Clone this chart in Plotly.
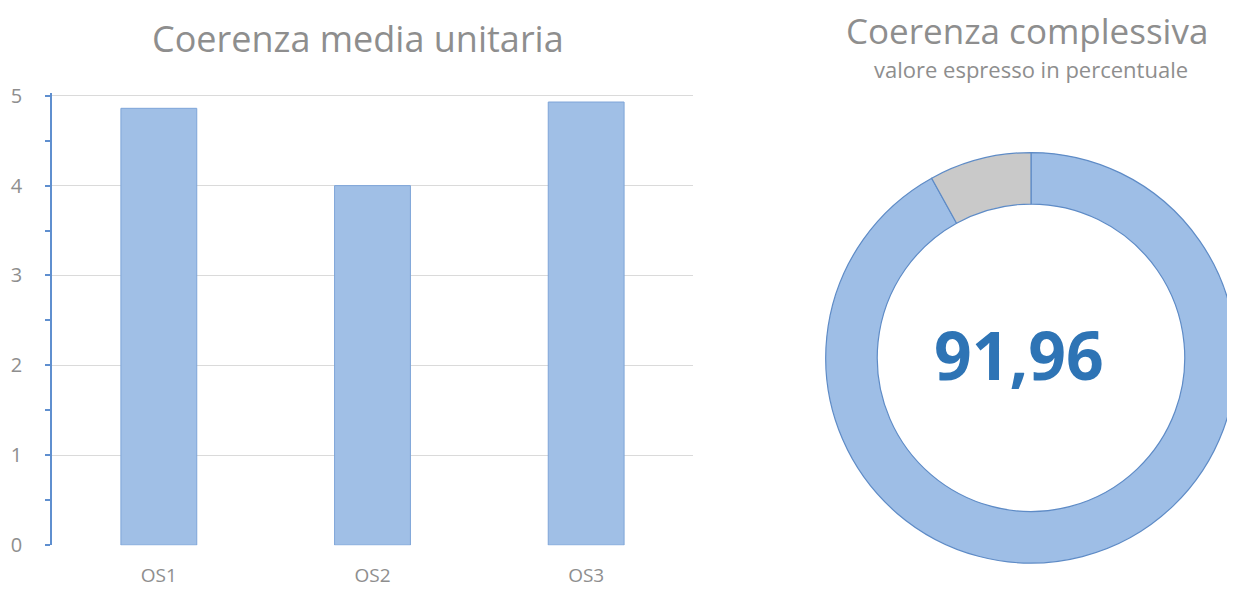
import plotly.graph_objects as go

categories = ["OS1", "OS2", "OS3"]
bar_values = [4.86, 4.0, 4.93]
y_ticks = [0, 1, 2, 3, 4, 5]

donut_labels = ["Coerenza", "Resto"]
donut_values = [91.96, 8.04]
donut_text = "91,96"

# screen-pixel -> paper mapping (measured from the rendered page)
W, H, X0, Y0, PH = 1235, 592, 8, 18, 570
def px(x):
    return (x - X0) / W
def py(y):
    return 1 - (y - Y0) / PH

fig = go.Figure()

fig.add_trace(go.Bar(
    x=categories, y=bar_values,
    width=0.355,
    marker=dict(color="#a0bfe6", line=dict(color="#7ea5d8", width=1)),
    showlegend=False, hoverinfo="skip",
))

cx, cy, r = 1031, 358, 206
fig.add_trace(go.Pie(
    labels=donut_labels, values=donut_values,
    hole=0.749, sort=False, direction="clockwise", rotation=0,
    marker=dict(colors=["#9ebee6", "#c9c9c9"], line=dict(color="#5e8bc6", width=1.2)),
    textinfo="none", showlegend=False, hoverinfo="skip",
    domain=dict(x=[px(cx - r), px(cx + r)], y=[py(cy + r), py(cy - r)]),
))

y_top = 5.03
unit = (546 - 95) / 5.0
fig.update_layout(
    width=W, height=H,
    margin=dict(l=0, r=0, t=0, b=0),
    paper_bgcolor="white", plot_bgcolor="white",
    font=dict(family="Open Sans", color="#8e8e8e"),
    xaxis=dict(domain=[px(52), px(693)], showgrid=False, showline=False,
               ticks="", tickfont=dict(size=19, color="#8e8e8e"),
               ticklabelstandoff=17, fixedrange=True),
    yaxis=dict(domain=[py(546), py(95 - (y_top - 5) * unit)], range=[0, y_top], tickvals=y_ticks,
               showgrid=True, gridcolor="#dadada", gridwidth=1,
               showline=True, linecolor="#5f8fcf", linewidth=1.5,
               ticks="outside", ticklen=5, tickcolor="#5f8fcf", tickwidth=1.5,
               minor=dict(dtick=0.5, ticks="outside", ticklen=5, tickcolor="#5f8fcf",
                          tickwidth=1.5, showgrid=False),
               tickfont=dict(size=20, color="#8e8e8e"), ticklabelstandoff=19,
               zeroline=False, fixedrange=True),
)

texts = [
    ("Coerenza media unitaria", 358, 38, 36, "#8e8e8e", False),
    ("Coerenza complessiva", 1027, 30, 35, "#8e8e8e", False),
    ("valore espresso in percentuale", 1031, 68, 22, "#8e8e8e", False),
    (donut_text, 1019, 354, 66, "#2e74b5", True),
]
for t, x, y, s, c, b in texts:
    fig.add_annotation(text=("<b>%s</b>" % t) if b else t,
                       x=px(x), y=py(y), xref="paper", yref="paper",
                       xanchor="center", yanchor="middle", showarrow=False,
                       font=dict(size=s, color=c))

fig.write_html("out.html")
